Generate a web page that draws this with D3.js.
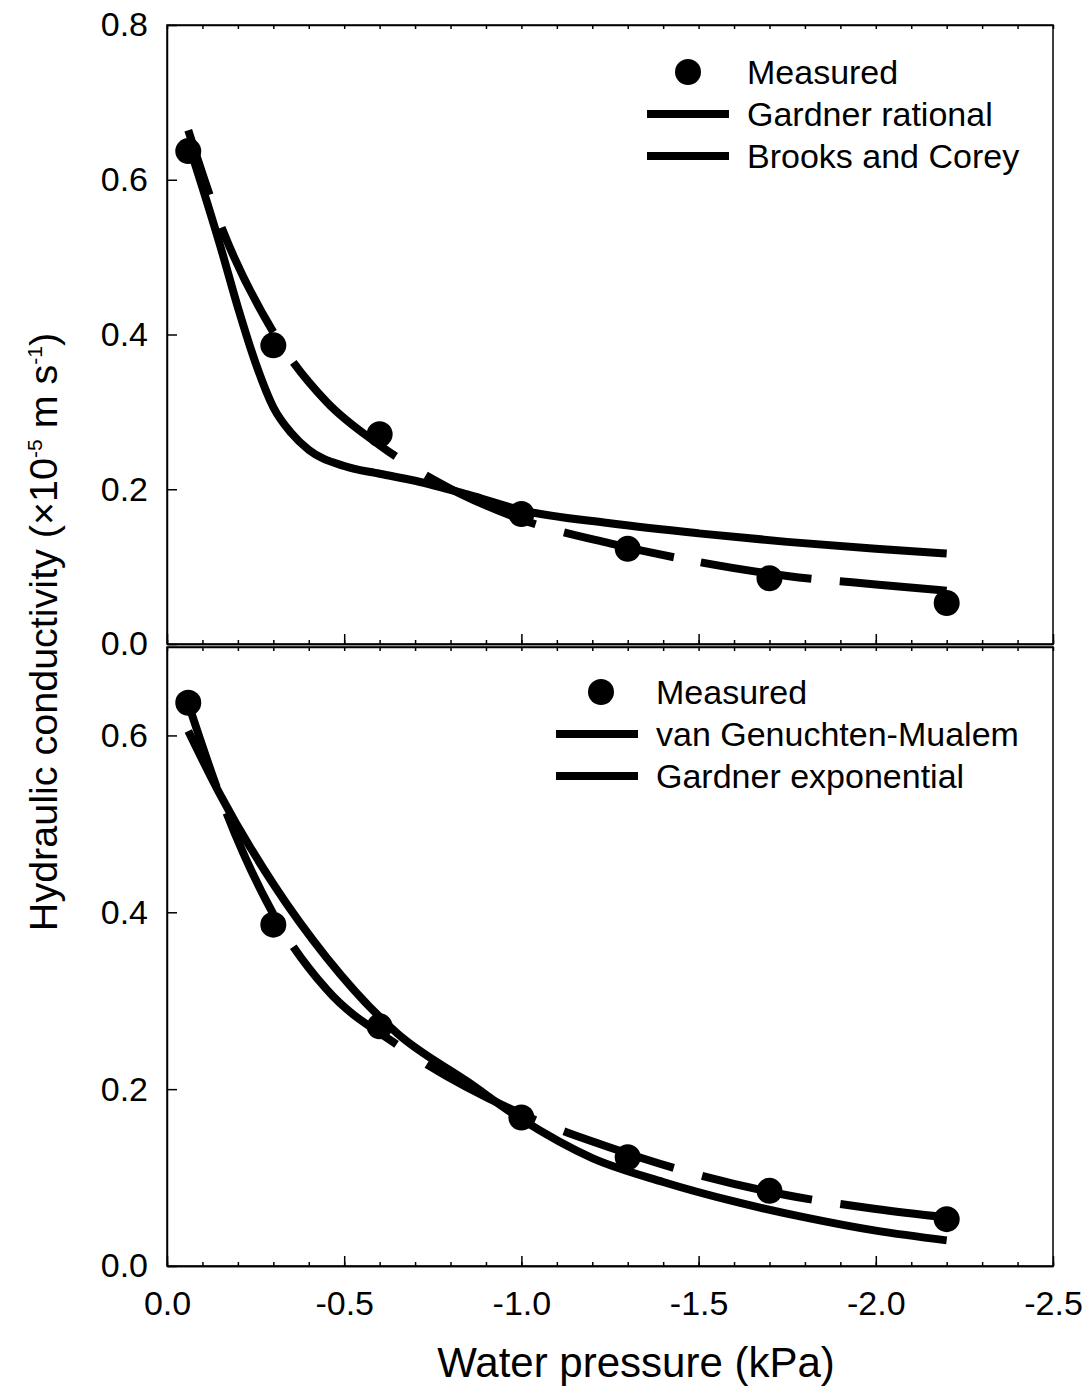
<!DOCTYPE html>
<html>
<head>
<meta charset="utf-8">
<script src="https://cdn.jsdelivr.net/npm/d3@7"></script>
<style>
  body { margin: 0; background: #fff; }
  svg { display: block; font-family: "Liberation Sans", Arial, sans-serif; }
  .axis path, .axis line { stroke: #000; stroke-width: 1.5; }
  .axis text { font-size: 34px; fill: #000; }
</style>
</head>
<body>
<script>
// measured points (same in both panels)
var xMeasured = [-0.06, -0.3, -0.6, -1.0, -1.3, -1.7, -2.2];
var kMeasured = [0.637, 0.386, 0.271, 0.168, 0.123, 0.085, 0.053];

// top panel fits
var xGardnerRat = [-0.06, -0.1, -0.15, -0.2, -0.25, -0.3, -0.35, -0.4, -0.5, -0.6, -0.7, -0.85, -1.0, -1.25, -1.5, -1.75, -2.0, -2.2];
var kGardnerRat = [0.648, 0.59, 0.515, 0.435, 0.363, 0.306, 0.273, 0.251, 0.230, 0.220, 0.211, 0.193, 0.173, 0.156, 0.143, 0.132, 0.123, 0.117];
var xBrooks = [-0.06, -0.15, -0.3, -0.45, -0.6, -0.75, -1.0, -1.25, -1.5, -1.75, -2.0, -2.2];
var kBrooks = [0.664, 0.543, 0.403, 0.313, 0.257, 0.213, 0.161, 0.130, 0.106, 0.088, 0.077, 0.069];

// bottom panel fits
var xVanG = [-0.06, -0.15, -0.3, -0.45, -0.65, -0.85, -1.0, -1.2, -1.4, -1.6, -1.8, -2.0, -2.2];
var kVanG = [0.605, 0.533, 0.432, 0.349, 0.263, 0.208, 0.166, 0.122, 0.095, 0.073, 0.055, 0.040, 0.029];
var xGardnerExp = [-0.06, -0.15, -0.3, -0.45, -0.65, -1.0, -1.25, -1.5, -1.75, -2.0, -2.2];
var kGardnerExp = [0.636, 0.531, 0.398, 0.313, 0.250, 0.172, 0.134, 0.103, 0.080, 0.0645, 0.055];

var xTicks = [0, -0.5, -1.0, -1.5, -2.0, -2.5];
var xMinorTicks = d3.range(0, 26).map(function(i) { return -i / 10; });
var yTicksTop = [0, 0.2, 0.4, 0.6, 0.8];
var yTicksBottom = [0, 0.2, 0.4, 0.6];

// where the long-dash pattern breaks, in water pressure units
var gapsTop = [[-0.12, -0.154], [-0.30, -0.356], [-0.645, -0.73], [-1.04, -1.12], [-1.43, -1.506], [-1.818, -1.898]];
var gapsBottom = [[-0.14, -0.168], [-0.30, -0.356], [-0.648, -0.733], [-1.04, -1.12], [-1.43, -1.51], [-1.82, -1.90]];

var width = 1091, height = 1386;
var left = 167, right = 1053;

var svg = d3.select('body').append('svg')
  .attr('width', width)
  .attr('height', height);

var x = d3.scaleLinear().domain([0, -2.5]).range([left, right]);

function fmt(d) { return (Math.abs(d) < 1e-9 ? 0 : d).toFixed(1); }

function zip(xs, ys) {
  return xs.map(function(v, i) { return [v, ys[i]]; });
}

// length along a path at which it reaches pixel column px
function lengthAtX(node, px) {
  var lo = 0, hi = node.getTotalLength();
  for (var k = 0; k < 40; k++) {
    var mid = (lo + hi) / 2;
    if (node.getPointAtLength(mid).x < px) lo = mid; else hi = mid;
  }
  return lo;
}

function drawPanel(opt) {
  var y = d3.scaleLinear().domain(opt.yDomain).range([opt.bottom, opt.top]);
  var g = svg.append('g');

  var line = d3.line()
    .x(function(d) { return x(d[0]); })
    .y(function(d) { return y(d[1]); })
    .curve(d3.curveMonotoneX);

  // fitted curves
  g.append('path')
    .datum(zip(opt.solid[0], opt.solid[1]))
    .attr('d', line)
    .attr('fill', 'none')
    .attr('stroke', '#000')
    .attr('stroke-width', 8);

  var dashed = g.append('path')
    .datum(zip(opt.dashed[0], opt.dashed[1]))
    .attr('d', line)
    .attr('fill', 'none')
    .attr('stroke', '#000')
    .attr('stroke-width', 8);

  var node = dashed.node();
  var marks = [0];
  opt.gaps.forEach(function(gp) {
    marks.push(lengthAtX(node, x(gp[0])), lengthAtX(node, x(gp[1])));
  });
  marks.push(node.getTotalLength());
  var dash = [];
  for (var i = 1; i < marks.length; i++) dash.push((marks[i] - marks[i - 1]).toFixed(1));
  dashed.attr('stroke-dasharray', dash.join(','));

  // measured points
  g.selectAll('circle.pt')
    .data(zip(xMeasured, kMeasured))
    .enter()
    .append('circle')
    .attr('class', 'pt')
    .attr('cx', function(d) { return x(d[0]); })
    .attr('cy', function(d) { return y(d[1]); })
    .attr('r', 13)
    .attr('fill', '#000');

  // frame
  g.append('rect')
    .attr('x', left)
    .attr('y', opt.top)
    .attr('width', right - left)
    .attr('height', opt.bottom - opt.top)
    .attr('fill', 'none')
    .attr('stroke', '#000')
    .attr('stroke-width', 1.5);

  // x axis (bottom): major and minor ticks inside
  g.append('g')
    .attr('class', 'axis')
    .attr('transform', 'translate(0,' + opt.bottom + ')')
    .call(d3.axisBottom(x).tickValues(xMinorTicks).tickSize(-4).tickSizeOuter(0).tickFormat(''));
  var xa = g.append('g')
    .attr('class', 'axis')
    .attr('transform', 'translate(0,' + opt.bottom + ')')
    .call(d3.axisBottom(x).tickValues(xTicks).tickSize(-10).tickSizeOuter(0)
      .tickPadding(25).tickFormat(opt.xLabels ? fmt : ''));
  xa.selectAll('text').attr('dy', '0.71em');

  // top edge minor ticks
  g.append('g')
    .attr('class', 'axis')
    .attr('transform', 'translate(0,' + opt.top + ')')
    .call(d3.axisTop(x).tickValues(xMinorTicks).tickSize(-4).tickSizeOuter(0).tickFormat(''));

  // y axis
  g.append('g')
    .attr('class', 'axis')
    .attr('transform', 'translate(' + left + ',0)')
    .call(d3.axisLeft(y).tickValues(opt.yTicks).tickSize(-10).tickSizeOuter(0)
      .tickPadding(19).tickFormat(fmt));

  // legend
  var lg = g.append('g').attr('transform', 'translate(' + opt.legend[0] + ',' + opt.legend[1] + ')');
  lg.append('circle').attr('cx', opt.markerX).attr('cy', 0).attr('r', 13).attr('fill', '#000');
  [1, 2].forEach(function(i) {
    lg.append('line')
      .attr('x1', 0).attr('x2', 82)
      .attr('y1', i * 42).attr('y2', i * 42)
      .attr('stroke', '#000').attr('stroke-width', 8);
  });
  lg.selectAll('text')
    .data(opt.names)
    .enter()
    .append('text')
    .attr('x', 100)
    .attr('y', function(d, i) { return i * 42; })
    .attr('dy', '0.35em')
    .style('font-size', '34px')
    .text(function(d) { return d; });
}

drawPanel({
  top: 25, bottom: 644, yDomain: [0, 0.8], yTicks: yTicksTop,
  solid: [xGardnerRat, kGardnerRat], dashed: [xBrooks, kBrooks], gaps: gapsTop,
  legend: [647, 72], markerX: 41, names: ['Measured', 'Gardner rational', 'Brooks and Corey'],
  xLabels: false
});

drawPanel({
  top: 647, bottom: 1266, yDomain: [0, 0.7], yTicks: yTicksBottom,
  solid: [xVanG, kVanG], dashed: [xGardnerExp, kGardnerExp], gaps: gapsBottom,
  legend: [556, 692], markerX: 45, names: ['Measured', 'van Genuchten-Mualem', 'Gardner exponential'],
  xLabels: true
});

// axis titles
svg.append('text')
  .attr('x', 636)
  .attr('y', 1377)
  .attr('text-anchor', 'middle')
  .style('font-size', '42px')
  .text('Water pressure (kPa)');

var yt = svg.append('text')
  .attr('transform', 'translate(57,632) rotate(-90)')
  .attr('text-anchor', 'middle')
  .style('font-size', '39.5px');
yt.append('tspan').text('Hydraulic conductivity (\u00d710');
yt.append('tspan').attr('dy', -15).style('font-size', '21px').text('-5');
yt.append('tspan').attr('dy', 15).text(' m s');
yt.append('tspan').attr('dy', -15).style('font-size', '21px').text('-1');
yt.append('tspan').attr('dy', 15).text(')');
</script>
</body>
</html>
